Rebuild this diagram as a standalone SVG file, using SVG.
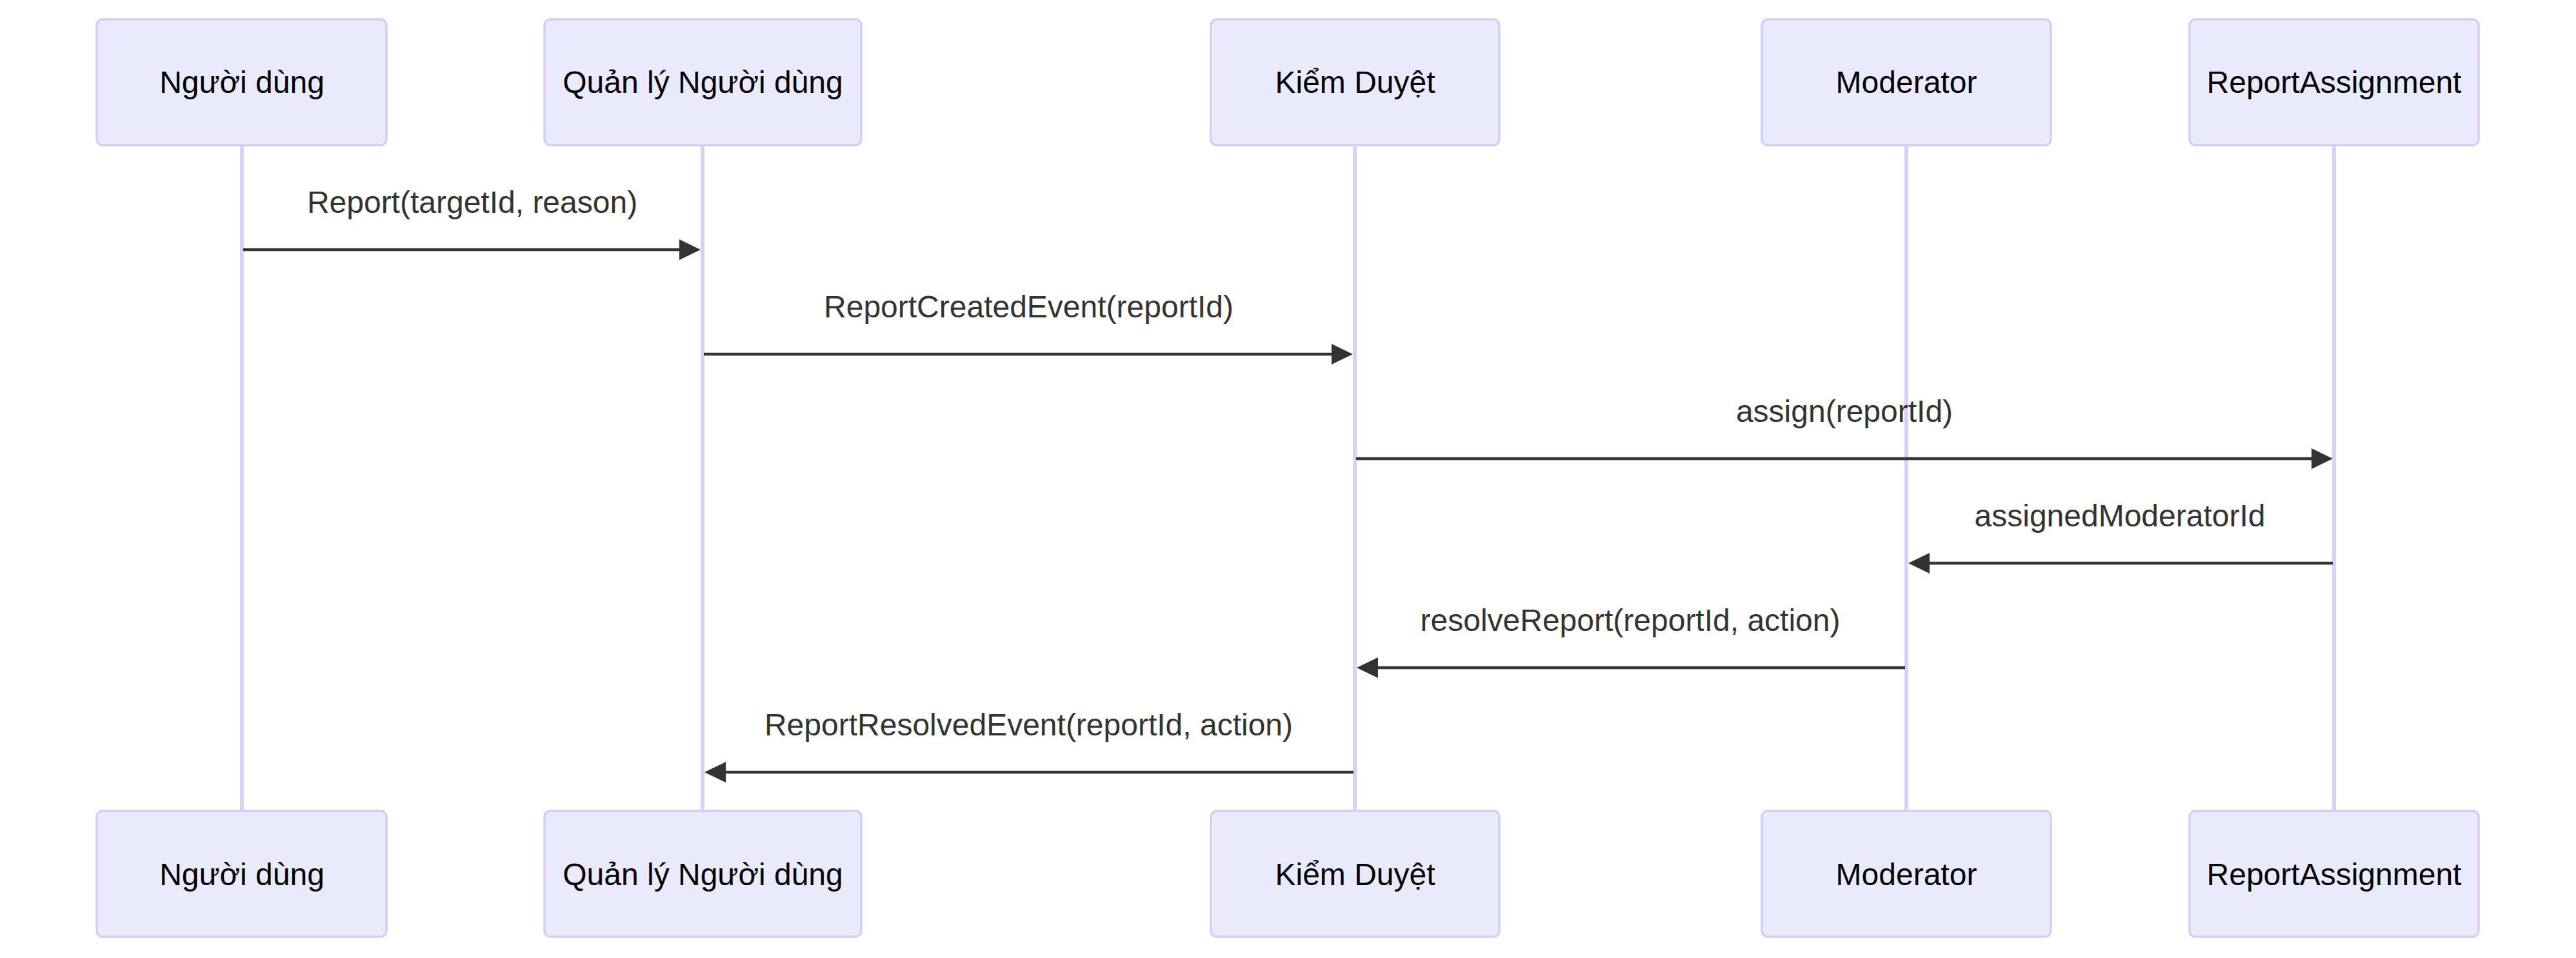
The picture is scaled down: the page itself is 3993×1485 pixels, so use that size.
<svg xmlns="http://www.w3.org/2000/svg" width="3993" height="1485" viewBox="0 0 3993 1485">
<style>
.actor{fill:#EAEAFD;stroke:#D9CCF3;stroke-width:3.5}
.atext{font-family:"Liberation Sans",Arial,sans-serif;font-size:48px;fill:#000;text-anchor:middle}
.life{stroke:#DAD0F4;stroke-width:6}
.msg{stroke:#333;stroke-width:4.5;fill:none;marker-end:url(#arrowhead)}
.mtext{font-family:"Liberation Sans",Arial,sans-serif;font-size:48px;fill:#333;text-anchor:middle}
</style>
<defs>
<marker id="arrowhead" markerUnits="userSpaceOnUse" markerWidth="40" markerHeight="40" refX="27" refY="16" orient="auto">
<path d="M0,0 L33,16 L0,32 z" fill="#333"/>
</marker>
</defs>
<rect width="3993" height="1485" fill="#fff"/>
<g id="lifelines">
<line class="life" x1="375" y1="225" x2="375" y2="1257"/>
<line class="life" x1="1089" y1="225" x2="1089" y2="1257"/>
<line class="life" x1="2100" y1="225" x2="2100" y2="1257"/>
<line class="life" x1="2955" y1="225" x2="2955" y2="1257"/>
<line class="life" x1="3618" y1="225" x2="3618" y2="1257"/>
</g>
<g id="actor-nguoidung">
<rect class="actor" x="150" y="30" width="449" height="195" rx="9"/>
<text class="atext" x="375" y="144">Người dùng</text>
<rect class="actor" x="150" y="1257" width="449" height="195" rx="9"/>
<text class="atext" x="375" y="1372">Người dùng</text>
</g>
<g id="actor-quanly">
<rect class="actor" x="844" y="30" width="491" height="195" rx="9"/>
<text class="atext" x="1089.5" y="144">Quản lý Người dùng</text>
<rect class="actor" x="844" y="1257" width="491" height="195" rx="9"/>
<text class="atext" x="1089.5" y="1372">Quản lý Người dùng</text>
</g>
<g id="actor-kiemduyet">
<rect class="actor" x="1877" y="30" width="447" height="195" rx="9"/>
<text class="atext" x="2100.5" y="144">Kiểm Duyệt</text>
<rect class="actor" x="1877" y="1257" width="447" height="195" rx="9"/>
<text class="atext" x="2100.5" y="1372">Kiểm Duyệt</text>
</g>
<g id="actor-moderator">
<rect class="actor" x="2731" y="30" width="448" height="195" rx="9"/>
<text class="atext" x="2955" y="144">Moderator</text>
<rect class="actor" x="2731" y="1257" width="448" height="195" rx="9"/>
<text class="atext" x="2955" y="1372">Moderator</text>
</g>
<g id="actor-reportassignment">
<rect class="actor" x="3394" y="30" width="448" height="195" rx="9"/>
<text class="atext" x="3618" y="144">ReportAssignment</text>
<rect class="actor" x="3394" y="1257" width="448" height="195" rx="9"/>
<text class="atext" x="3618" y="1372">ReportAssignment</text>
</g>
<g id="connectors">
<line class="msg" x1="377" y1="387" x2="1080" y2="387"/>
<text class="mtext" x="732" y="330">Report(targetId, reason)</text>
<line class="msg" x1="1091" y1="549" x2="2091" y2="549"/>
<text class="mtext" x="1594.5" y="492">ReportCreatedEvent(reportId)</text>
<line class="msg" x1="2102" y1="711" x2="3610" y2="711"/>
<text class="mtext" x="2859" y="654">assign(reportId)</text>
<line class="msg" x1="3616" y1="873" x2="2964" y2="873"/>
<text class="mtext" x="3286" y="816">assignedModeratorId</text>
<line class="msg" x1="2953" y1="1035" x2="2109" y2="1035"/>
<text class="mtext" x="2527" y="978">resolveReport(reportId, action)</text>
<line class="msg" x1="2098" y1="1197" x2="1098" y2="1197"/>
<text class="mtext" x="1594.5" y="1140">ReportResolvedEvent(reportId, action)</text>
</g>
</svg>
